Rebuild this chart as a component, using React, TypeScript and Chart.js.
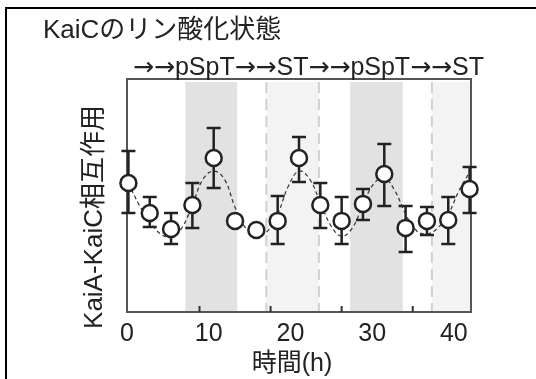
import { useEffect, useRef } from "react";
import { Chart, registerables } from "chart.js";

Chart.register(...registerables);

// ---- data ----
const hours = [0, 3, 6, 9, 12, 15, 18, 21, 24, 27, 30, 33, 36, 39, 42, 45, 48];
const values = [55.4, 42.5, 35.6, 45.9, 66.1, 39.1, 35.2, 39.1, 66.1, 45.9, 39.1, 46.4, 59.2, 36.1, 39.1, 39.5, 52.8];
const errHigh = [69.1, 49.4, 42.5, 55.4, 79.0, 40.8, 36.8, 49.8, 75.1, 55.4, 49.4, 52.8, 72.1, 45.5, 45.1, 49.4, 62.2];
const errLow = [42.5, 36.5, 29.2, 36.1, 53.2, 37.4, 33.6, 29.2, 55.8, 36.1, 29.2, 39.5, 45.5, 25.8, 33.0, 29.2, 42.5];

const fitHours = [0, 1.5, 3, 4.5, 6, 7.5, 9, 10.5, 12, 13.5, 15, 16.5, 18, 19.5, 21, 22.5, 24, 25.5, 27, 28.5, 30, 31.5, 33, 34.5, 36, 37.5, 39, 40.5, 42, 43.5, 45, 46.5, 48];
const fitValues = [55.4, 46, 39, 33.5, 32.2, 36, 46, 57, 60.5, 57, 45, 36, 33, 34.5, 42, 54, 60.5, 57, 47, 37, 32.5, 36, 46, 55, 57.5, 52, 42, 35, 33.5, 36, 42, 52, 60];

const darkBands = [[8, 15.3], [31.2, 38.6]];
const lightBands = [[19.4, 26.8], [42.7, 48.2]];
const tickMarks = [10, 20, 30, 40];
const xTickLabels = [0, 10, 20, 30, 40];

const titleText = "KaiCのリン酸化状態";
const phaseText = "→→pSpT→→ST→→pSpT→→ST";
const yLabel = "KaiA-KaiC相互作用";
const xLabel = "時間(h)";

const FONT = "'Liberation Sans', Arial, 'Noto Sans CJK JP', sans-serif";
const ARROW_FONT = "'DejaVu Sans', sans-serif";
const INK = "#222";

const decor = {
  id: "decor",
  beforeDatasetsDraw(chart: any) {
    const { ctx, chartArea } = chart;
    const { left, right, top, bottom } = chartArea;
    const x = chart.scales.x;
    const y = chart.scales.y;
    ctx.save();
    // bands
    ctx.fillStyle = "#e2e2e2";
    darkBands.forEach(([a, b]) => {
      const xa = x.getPixelForValue(a);
      const xb = Math.min(x.getPixelForValue(b), right);
      ctx.fillRect(xa, top + 3, xb - xa, bottom - top - 4);
    });
    ctx.fillStyle = "#f3f3f3";
    lightBands.forEach(([a, b]) => {
      const xa = x.getPixelForValue(a);
      const xb = Math.min(x.getPixelForValue(b), right);
      ctx.fillRect(xa, top + 3, xb - xa, bottom - top - 4);
    });
    ctx.strokeStyle = "#d0d0d0";
    ctx.lineWidth = 2;
    ctx.setLineDash([11, 6]);
    lightBands.forEach(([a, b]) => {
      [a, b].forEach((v) => {
        const px = x.getPixelForValue(v);
        if (px < right - 3) {
          ctx.beginPath();
          ctx.moveTo(px, top + 3);
          ctx.lineTo(px, bottom - 1);
          ctx.stroke();
        }
      });
    });
    ctx.setLineDash([]);
    // frame
    ctx.strokeStyle = "#555";
    ctx.lineWidth = 2;
    ctx.strokeRect(left, top, right - left, bottom - top);
    // inward ticks
    ctx.strokeStyle = "#333";
    tickMarks.forEach((v) => {
      const px = x.getPixelForValue(v);
      ctx.beginPath();
      ctx.moveTo(px, bottom);
      ctx.lineTo(px, bottom - 6);
      ctx.stroke();
    });
    // error bars
    ctx.strokeStyle = INK;
    ctx.lineWidth = 2.5;
    hours.forEach((h, i) => {
      const px = x.getPixelForValue(h);
      const hi = y.getPixelForValue(errHigh[i]);
      const lo = y.getPixelForValue(errLow[i]);
      ctx.beginPath();
      ctx.moveTo(px, hi);
      ctx.lineTo(px, lo);
      ctx.moveTo(px - 7, hi);
      ctx.lineTo(px + 7, hi);
      ctx.moveTo(px - 7, lo);
      ctx.lineTo(px + 7, lo);
      ctx.stroke();
    });
    ctx.restore();
  },
  afterDraw(chart: any) {
    const { ctx } = chart;
    ctx.save();
    // outer frame
    ctx.strokeStyle = "#000";
    ctx.lineWidth = 2;
    ctx.beginPath();
    ctx.moveTo(6, 379);
    ctx.lineTo(6, 8);
    ctx.lineTo(536, 8);
    ctx.stroke();
    ctx.fillStyle = INK;
    ctx.textAlign = "left";
    ctx.textBaseline = "alphabetic";
    ctx.font = `26px ${FONT}`;
    ctx.fillText(titleText, 43, 38);
    // phase line: arrows in a narrower arrow font
    let cx = 133;
    const parts = phaseText.split(/(→)/).filter((p) => p.length > 0);
    parts.forEach((p) => {
      ctx.font = p === "→" ? `25px ${ARROW_FONT}` : `25px ${FONT}`;
      ctx.fillText(p, cx, 75);
      cx += ctx.measureText(p).width;
    });
    ctx.font = `25px ${FONT}`;
    ctx.textAlign = "center";
    ctx.textBaseline = "middle";
    ctx.fillText(xLabel, 292, 364);
    ctx.font = `26px ${FONT}`;
    ctx.translate(95, 217);
    ctx.rotate(-Math.PI / 2);
    ctx.fillText(yLabel, 0, 0);
    ctx.restore();
  },
};

export default function App() {
  const ref = useRef<HTMLCanvasElement>(null);
  useEffect(() => {
    document.body.style.margin = "0";
    const chart = new Chart(ref.current!, {
      type: "scatter",
      data: {
        datasets: [
          {
            data: hours.map((h, i) => ({ x: h, y: values[i] })),
            showLine: false,
            pointRadius: 8,
            pointBackgroundColor: "#fff",
            pointBorderColor: INK,
            pointBorderWidth: 2.5,
            clip: false,
            order: 0,
          } as any,
          {
            data: fitHours.map((h, i) => ({ x: h, y: fitValues[i] })),
            showLine: true,
            pointRadius: 0,
            borderColor: "#333",
            borderWidth: 1.2,
            borderDash: [4, 3],
            tension: 0.4,
            order: 1,
          } as any,
        ],
      },
      options: {
        responsive: false,
        animation: false,
        events: [],
        layout: { padding: { left: 127, right: 65, top: 79, bottom: 27 } },
        plugins: { legend: { display: false }, tooltip: { enabled: false } },
        scales: {
          x: { type: "linear", min: -0.2, max: 48.2, display: false },
          y: { type: "linear", min: 0, max: 100, display: false },
          xl: {
            type: "linear",
            position: "bottom",
            min: 0,
            max: 42.1,
            afterBuildTicks: (s: any) => {
              s.ticks = xTickLabels.map((v) => ({ value: v }));
            },
            afterFit: (s: any) => {
              s.height = 40;
            },
            grid: { display: false, drawTicks: false },
            border: { display: false },
            ticks: {
              padding: 7,
              color: INK,
              font: { family: FONT, size: 25 },
              maxRotation: 0,
              autoSkip: false,
            },
          },
        },
      } as any,
      plugins: [decor],
    });
    return () => chart.destroy();
  }, []);
  return (
    <div style={{ width: 536, height: 379 }}>
      <canvas ref={ref} width={536} height={379} style={{ display: "block" }} />
    </div>
  );
}
